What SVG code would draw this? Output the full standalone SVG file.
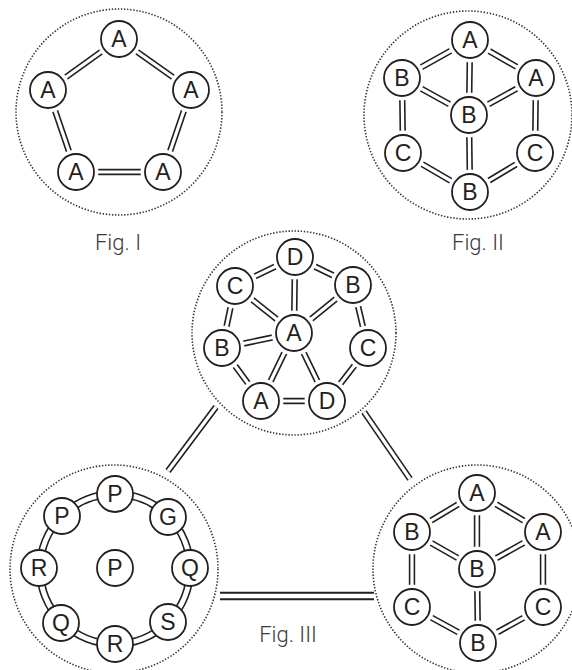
<svg xmlns="http://www.w3.org/2000/svg" xmlns:xlink="http://www.w3.org/1999/xlink" width="572" height="670" viewBox="0 0 572 670">
<style>
.bg{fill:#fff}
.dot{fill:none;stroke:#333;stroke-width:1.6;stroke-dasharray:1.4 1.7}
.dk{fill:none;stroke:#231f20;stroke-width:6.4}
.wt{fill:none;stroke:#fff;stroke-width:3.2}
.dk2{fill:none;stroke:#231f20;stroke-width:8.6}
.wt2{fill:none;stroke:#fff;stroke-width:4.6}
.rdk{fill:none;stroke:#231f20;stroke-width:8.2}
.rwt{fill:none;stroke:#fff;stroke-width:5}
.halo{fill:#fff}
.n{fill:#fff;stroke:#231f20;stroke-width:1.8}
.t{font-family:"Liberation Sans",Arial,sans-serif;font-size:23px;fill:#231f20;text-anchor:middle}
.fig{font-family:Roboto,"Liberation Sans",sans-serif;font-weight:300;font-size:22px;fill:#3a3a3a;text-anchor:middle}
</style>
<defs>
<path id="e1" d="M119,39L48,90M119,39L191,90M48,90L76,172M191,90L163,172M76,172L163,172"/>
<path id="e2" d="M470,40L402,78M470,40L536,78M470,40L469,115M402,78L469,115M536,78L469,115M402,78L403,153M536,78L535,153M469,115L470,192M403,153L470,192M535,153L470,192"/>
<path id="e3" d="M235,286L295,257M295,257L353,285M353,285L368,348M368,348L327,401M327,401L261,401M261,401L222,348M222,348L235,286M294,333L295,257M294,333L235,286M294,333L353,285M294,333L222,348M294,333L261,401M294,333L327,401"/>
<path id="e4" d="M477,493L412,532M477,493L543,532M477,493L477,569M412,532L477,569M543,532L477,569M412,532L412,607M543,532L543,607M477,569L478,643M412,607L478,643M543,607L478,643"/>
<path id="e5" d="M168,471L216,407M364,412L410,479"/>
<path id="e6" d="M220,596L374,596"/>
</defs>
<rect class="bg" x="0" y="0" width="572" height="670"/>
<g id="frames">
<circle class="dot" cx="119" cy="112" r="103"/>
<circle class="dot" cx="468" cy="115" r="104"/>
<circle class="dot" cx="294" cy="333" r="102"/>
<circle class="dot" cx="114" cy="569" r="104"/>
<circle class="dot" cx="477" cy="569" r="104"/>
</g>
<g id="connectors">
<use xlink:href="#e1" class="dk"/><use xlink:href="#e1" class="wt"/>
<use xlink:href="#e2" class="dk"/><use xlink:href="#e2" class="wt"/>
<use xlink:href="#e3" class="dk"/><use xlink:href="#e3" class="wt"/>
<use xlink:href="#e4" class="dk"/><use xlink:href="#e4" class="wt"/>
<use xlink:href="#e5" class="dk"/><use xlink:href="#e5" class="wt"/>
<use xlink:href="#e6" class="dk2"/><use xlink:href="#e6" class="wt2"/>
<circle class="rdk" cx="115" cy="569" r="75"/>
<circle class="rwt" cx="115" cy="569" r="75"/>
</g>
<g id="fig1">
<g id="f1a1"><circle class="halo" cx="119" cy="39" r="22.5"/><circle class="n" cx="119" cy="39" r="18"/><text class="t" x="119" y="47">A</text></g>
<g id="f1a2"><circle class="halo" cx="48" cy="90" r="22.5"/><circle class="n" cx="48" cy="90" r="18"/><text class="t" x="48" y="98">A</text></g>
<g id="f1a3"><circle class="halo" cx="191" cy="90" r="22.5"/><circle class="n" cx="191" cy="90" r="18"/><text class="t" x="191" y="98">A</text></g>
<g id="f1a4"><circle class="halo" cx="76" cy="172" r="22.5"/><circle class="n" cx="76" cy="172" r="18"/><text class="t" x="76" y="180">A</text></g>
<g id="f1a5"><circle class="halo" cx="163" cy="172" r="22.5"/><circle class="n" cx="163" cy="172" r="18"/><text class="t" x="163" y="180">A</text></g>
</g>
<g id="fig2">
<g id="f2a"><circle class="halo" cx="470" cy="40" r="22.5"/><circle class="n" cx="470" cy="40" r="18"/><text class="t" x="470" y="48">A</text></g>
<g id="f2bl"><circle class="halo" cx="402" cy="78" r="22.5"/><circle class="n" cx="402" cy="78" r="18"/><text class="t" x="402" y="86">B</text></g>
<g id="f2ar"><circle class="halo" cx="536" cy="78" r="22.5"/><circle class="n" cx="536" cy="78" r="18"/><text class="t" x="536" y="86">A</text></g>
<g id="f2bc"><circle class="halo" cx="469" cy="115" r="22.5"/><circle class="n" cx="469" cy="115" r="18"/><text class="t" x="469" y="123">B</text></g>
<g id="f2cl"><circle class="halo" cx="403" cy="153" r="22.5"/><circle class="n" cx="403" cy="153" r="18"/><text class="t" x="403" y="161">C</text></g>
<g id="f2cr"><circle class="halo" cx="535" cy="153" r="22.5"/><circle class="n" cx="535" cy="153" r="18"/><text class="t" x="535" y="161">C</text></g>
<g id="f2bb"><circle class="halo" cx="470" cy="192" r="22.5"/><circle class="n" cx="470" cy="192" r="18"/><text class="t" x="470" y="200">B</text></g>
</g>
<g id="fig3top">
<g id="f3d"><circle class="halo" cx="295" cy="257" r="22.5"/><circle class="n" cx="295" cy="257" r="18"/><text class="t" x="295" y="265">D</text></g>
<g id="f3c"><circle class="halo" cx="235" cy="286" r="22.5"/><circle class="n" cx="235" cy="286" r="18"/><text class="t" x="235" y="294">C</text></g>
<g id="f3br"><circle class="halo" cx="353" cy="285" r="22.5"/><circle class="n" cx="353" cy="285" r="18"/><text class="t" x="353" y="293">B</text></g>
<g id="f3ac"><circle class="halo" cx="294" cy="333" r="22.5"/><circle class="n" cx="294" cy="333" r="18"/><text class="t" x="294" y="341">A</text></g>
<g id="f3bl"><circle class="halo" cx="222" cy="348" r="22.5"/><circle class="n" cx="222" cy="348" r="18"/><text class="t" x="222" y="356">B</text></g>
<g id="f3cr"><circle class="halo" cx="368" cy="348" r="22.5"/><circle class="n" cx="368" cy="348" r="18"/><text class="t" x="368" y="356">C</text></g>
<g id="f3ab"><circle class="halo" cx="261" cy="401" r="22.5"/><circle class="n" cx="261" cy="401" r="18"/><text class="t" x="261" y="409">A</text></g>
<g id="f3db"><circle class="halo" cx="327" cy="401" r="22.5"/><circle class="n" cx="327" cy="401" r="18"/><text class="t" x="327" y="409">D</text></g>
</g>
<g id="fig3ring">
<g id="r1"><circle class="n" cx="115" cy="494" r="18"/><text class="t" x="115" y="502">P</text></g>
<g id="r2"><circle class="n" cx="62" cy="516" r="18"/><text class="t" x="62" y="524">P</text></g>
<g id="r3"><circle class="n" cx="168" cy="517" r="18"/><text class="t" x="168" y="525">G</text></g>
<g id="r4"><circle class="n" cx="39" cy="568" r="18"/><text class="t" x="39" y="576">R</text></g>
<g id="r5"><circle class="n" cx="115" cy="568" r="18"/><text class="t" x="115" y="576">P</text></g>
<g id="r6"><circle class="n" cx="190" cy="568" r="18"/><text class="t" x="190" y="576">Q</text></g>
<g id="r7"><circle class="n" cx="61" cy="623" r="18"/><text class="t" x="61" y="631">Q</text></g>
<g id="r8"><circle class="n" cx="168" cy="622" r="18"/><text class="t" x="168" y="630">S</text></g>
<g id="r9"><circle class="n" cx="115" cy="644" r="18"/><text class="t" x="115" y="652">R</text></g>
</g>
<g id="fig3right">
<g id="f4a"><circle class="halo" cx="477" cy="493" r="22.5"/><circle class="n" cx="477" cy="493" r="18"/><text class="t" x="477" y="501">A</text></g>
<g id="f4bl"><circle class="halo" cx="412" cy="532" r="22.5"/><circle class="n" cx="412" cy="532" r="18"/><text class="t" x="412" y="540">B</text></g>
<g id="f4ar"><circle class="halo" cx="543" cy="532" r="22.5"/><circle class="n" cx="543" cy="532" r="18"/><text class="t" x="543" y="540">A</text></g>
<g id="f4bc"><circle class="halo" cx="477" cy="569" r="22.5"/><circle class="n" cx="477" cy="569" r="18"/><text class="t" x="477" y="577">B</text></g>
<g id="f4cl"><circle class="halo" cx="412" cy="607" r="22.5"/><circle class="n" cx="412" cy="607" r="18"/><text class="t" x="412" y="615">C</text></g>
<g id="f4cr"><circle class="halo" cx="543" cy="607" r="22.5"/><circle class="n" cx="543" cy="607" r="18"/><text class="t" x="543" y="615">C</text></g>
<g id="f4bb"><circle class="halo" cx="478" cy="643" r="22.5"/><circle class="n" cx="478" cy="643" r="18"/><text class="t" x="478" y="651">B</text></g>
</g>
<g id="labels">
<text class="fig" x="118" y="250">Fig. I</text>
<text class="fig" x="478" y="250">Fig. II</text>
<text class="fig" x="288" y="642">Fig. III</text>
</g>
</svg>
